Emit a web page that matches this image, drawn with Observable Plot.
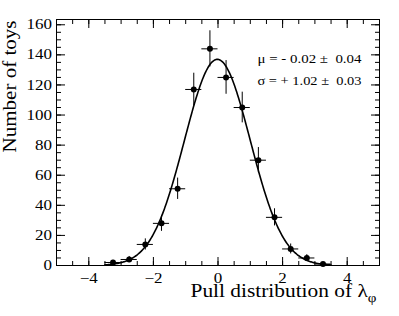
<!DOCTYPE html>
<html><head><meta charset="utf-8">
<script src="https://cdn.jsdelivr.net/npm/d3@7"></script>
<script src="https://cdn.jsdelivr.net/npm/@observablehq/plot@0.6"></script>
<style>
body{margin:0;background:#fff}
svg{font-family:"Liberation Serif","Times New Roman",serif}
</style>
</head><body><div id="chart"></div>
<script>
// Histogram bins (pull values), counts and error bars
const binCenters = [-3.25,-2.75,-2.25,-1.75,-1.25,-0.75,-0.25,0.25,0.75,1.25,1.75,2.25,2.75,3.25];
const counts     = [2,4,14,28,51,117,144,125,105,70,32,11,5,1];
const errors     = [1.4,2,3.7,5.3,7.1,10.8,12,11.2,10.2,8.4,5.7,3.3,2.2,1];
const binHalfWidth = 0.25;
// Gaussian fit parameters as shown
const fitAmplitude = 137, fitMean = -0.02, fitSigma = 1.02, fitFrom = -3.5, fitTo = 3.5;
const statLines = ["\u03bc = - 0.02 \u00b1  0.04", "\u03c3 = + 1.02 \u00b1  0.03"];
// Axis ticks
const xMajor = [-4,-2,0,2,4];
const xMinor = d3.range(-5, 5.001, 0.5);
const yMajor = [0,20,40,60,80,100,120,140,160];
const yMinor = d3.range(0, 163, 5);
const xTitle = "Pull distribution of \u03bb";
const xTitleSub = "\u03c6";
const yTitle = "Number of toys";

const data = binCenters.map((x,i)=>({x, y: counts[i], e: errors[i]}));
const curve = d3.range(fitFrom, fitTo + 1e-9, 0.02).map(x => ({x, y: fitAmplitude*Math.exp(-0.5*((x-fitMean)/fitSigma)**2)}));
const fmt = d => d < 0 ? "\u2212" + (-d) : String(d);
const tickOnly = {fill: "none", label: null};

const chart = Plot.plot({
  width: 399, height: 316,
  marginLeft: 56, marginRight: 20, marginTop: 19, marginBottom: 51,
  x: {domain: [-5, 5]},
  y: {domain: [0, 163.5]},
  style: {fontFamily: "Liberation Serif, serif", background: "white", color: "black"},
  marks: [
    // inward ticks on all four sides
    Plot.axisX(xMinor, {anchor: "bottom", tickSize: -4, ...tickOnly}),
    Plot.axisX(xMajor, {anchor: "bottom", tickSize: -8, ...tickOnly}),
    Plot.axisX(xMinor, {anchor: "top", tickSize: -4, ...tickOnly}),
    Plot.axisX(xMajor, {anchor: "top", tickSize: -8, ...tickOnly}),
    Plot.axisY(yMinor, {anchor: "left", tickSize: -5, ...tickOnly}),
    Plot.axisY(yMajor, {anchor: "left", tickSize: -9, ...tickOnly}),
    Plot.axisY(yMinor, {anchor: "right", tickSize: -5, ...tickOnly}),
    Plot.axisY(yMajor, {anchor: "right", tickSize: -9, ...tickOnly}),
    // tick labels
    Plot.axisX(xMajor, {anchor: "bottom", tickSize: 0, tickPadding: 7.5, fontSize: 14.5, tickFormat: fmt, label: null, className: "ticklab"}),
    Plot.axisY(yMajor, {anchor: "left", tickSize: 0, tickPadding: 4.5, fontSize: 14.5, tickFormat: fmt, label: null, className: "ticklab"}),
    Plot.frame({stroke: "black", strokeWidth: 1}),
    // fit curve
    Plot.line(curve, {x: "x", y: "y", stroke: "black", strokeWidth: 1.6}),
    // error bars
    Plot.ruleX(data, {x: "x", y1: d => d.y - d.e, y2: d => d.y + d.e, stroke: "black", strokeWidth: 1}),
    Plot.ruleY(data, {y: "y", x1: d => d.x - binHalfWidth, x2: d => d.x + binHalfWidth, stroke: "black", strokeWidth: 1}),
    Plot.dot(data, {x: "x", y: "y", r: 3, fill: "black"}),
    // fit stats
    Plot.text([statLines[0]], {text: d => d, frameAnchor: "top-right", textAnchor: "end", lineAnchor: "middle",
      dx: -18, dy: 39.5, fontSize: 12.8, fill: "black"}),
    Plot.text([statLines[1]], {text: d => d, frameAnchor: "top-right", textAnchor: "end", lineAnchor: "middle",
      dx: -18, dy: 61.5, fontSize: 12.8, fill: "black"}),
    // axis titles
    Plot.text([yTitle], {text: d => d, frameAnchor: "top-left", rotate: -90, textAnchor: "end", lineAnchor: "middle",
      dx: -47, dy: 1, fontSize: 19, fill: "black"}),
    Plot.text([xTitle], {text: d => d, frameAnchor: "bottom-right", textAnchor: "end", lineAnchor: "middle",
      dx: -3, dy: 25.5, fontSize: 18.5, fill: "black"})
  ]
});
document.getElementById("chart").appendChild(chart);

// horizontal text proportions of the original (wider glyphs): stretch texts to the widths seen
const targets = new Map([[statLines[0], 104], [statLines[1], 104], [yTitle, 132]]);
Array.from(chart.querySelectorAll("text")).forEach(t => {
  const s = t.textContent;
  if (s === xTitle) {
    const sub = document.createElementNS("http://www.w3.org/2000/svg", "tspan");
    sub.textContent = xTitleSub;
    sub.setAttribute("font-size", "13");
    sub.setAttribute("dy", "5");
    t.appendChild(sub);
    t.setAttribute("textLength", 186);
    t.setAttribute("lengthAdjust", "spacingAndGlyphs");
  } else if (targets.has(s)) {
    t.setAttribute("textLength", targets.get(s));
    t.setAttribute("lengthAdjust", "spacingAndGlyphs");
  } else if (t.closest(".ticklab") || /^[\u22120-9]+$/.test(s)) {
    t.setAttribute("textLength", t.getComputedTextLength() * 1.17);
    t.setAttribute("lengthAdjust", "spacingAndGlyphs");
  }
});
</script>
</body></html>
